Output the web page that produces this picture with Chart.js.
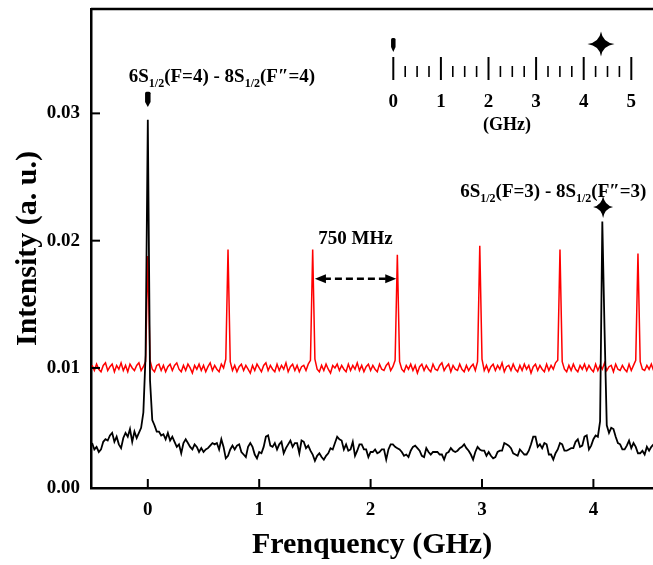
<!DOCTYPE html>
<html>
<head>
<meta charset="utf-8">
<script src="https://cdn.jsdelivr.net/npm/chart.js@4.4.0/dist/chart.umd.min.js"></script>
<style>
  body { margin: 0; background: #fff; }
  #wrap { width: 653px; height: 565px; }
</style>
</head>
<body>
<div id="wrap"><canvas id="spec" width="653" height="565"></canvas></div>
<script>
// frequency grid shared by both traces (GHz)
const freqStart = -0.5;
const freqStep = 0.02;

// black trace, 6S-8S two-photon signal
const blackIntensity = [
  0.0041,0.0036,0.0038,0.0034,0.0036,0.0042,0.0044,0.0043,0.0047,0.0049,
  0.0042,0.0046,0.0040,0.0037,0.0045,0.0049,0.0046,0.0052,0.0042,0.0050,
  0.0045,0.0049,0.0053,0.0065,0.0110,0.0295,0.0090,0.0059,0.0055,0.0050,
  0.0050,0.0047,0.0048,0.0044,0.0049,0.0043,0.0046,0.0042,0.0038,0.0040,
  0.0033,0.0041,0.0044,0.0041,0.0038,0.0036,0.0040,0.0038,0.0034,0.0037,
  0.0034,
  0.0036,0.0037,0.0039,0.0041,0.0040,0.0041,0.0036,0.0044,0.0038,0.0029,
  0.0031,0.0036,0.0039,0.0036,0.0039,0.0040,0.0034,0.0032,0.0030,0.0038,
  0.0041,0.0038,0.0032,0.0029,0.0034,0.0033,0.0038,0.0046,0.0047,0.0039,
  0.0038,0.0041,0.0036,0.0040,0.0042,0.0033,0.0037,0.0040,0.0043,0.0038,
  0.0041,0.0041,0.0033,0.0043,0.0042,0.0037,0.0039,0.0035,0.0032,0.0027,
  0.0031,
  0.0033,0.0030,0.0028,0.0031,0.0033,0.0037,0.0036,0.0041,0.0046,0.0044,
  0.0043,0.0036,0.0040,0.0035,0.0036,0.0042,0.0031,0.0035,0.0040,0.0040,
  0.0036,0.0036,0.0030,0.0034,0.0034,0.0036,0.0033,0.0034,0.0036,0.0036,
  0.0028,0.0036,0.0040,0.0040,0.0038,0.0037,0.0036,0.0034,0.0031,0.0032,
  0.0030,0.0035,0.0038,0.0039,0.0037,0.0035,0.0031,0.0030,0.0037,0.0034,
  0.0032,
  0.0034,0.0034,0.0034,0.0032,0.0032,0.0028,0.0033,0.0034,0.0037,0.0035,
  0.0034,0.0035,0.0037,0.0038,0.0040,0.0037,0.0035,0.0032,0.0028,0.0034,
  0.0038,0.0036,0.0035,0.0035,0.0031,0.0034,0.0031,0.0029,0.0030,0.0034,
  0.0035,0.0035,0.0041,0.0040,0.0039,0.0037,0.0033,0.0032,0.0031,0.0036,
  0.0034,0.0032,0.0032,0.0035,0.0040,0.0046,0.0046,0.0038,0.0040,0.0037,
  0.0041,0.0040,0.0032,0.0032,0.0028,0.0033,0.0036,0.0041,0.0040,0.0035,
  0.0035,0.0036,0.0037,0.0037,0.0042,0.0044,0.0038,0.0039,0.0046,0.0047,
  0.0036,0.0039,0.0044,0.0047,0.0046,0.0058,0.0215,0.0130,0.0055,0.0049,
  0.0053,0.0052,0.0046,0.0041,0.0040,0.0036,0.0036,0.0039,0.0043,0.0037,
  0.0041,0.0038,0.0033,0.0033,0.0035,0.0032,0.0038,0.0035,0.0038,0.0040
];

// red trace, reference comb with 750 MHz spacing
const redIntensity = [
  0.0102,0.0098,0.0103,0.0099,0.0097,0.0102,0.0104,0.0098,0.0101,0.0103,
  0.0097,0.0102,0.0099,0.0104,0.0098,0.0102,0.0097,0.0103,0.0100,0.0098,
  0.0102,0.0104,0.0098,0.0101,0.0105,0.0188,0.0106,0.0099,0.0097,0.0102,
  0.0103,0.0098,0.0102,0.0097,0.0101,0.0103,0.0098,0.0102,0.0104,0.0099,
  0.0097,0.0102,0.0098,0.0103,0.0100,0.0096,0.0102,0.0099,0.0103,0.0098,
  0.0102,0.0097,0.0101,0.0104,0.0098,0.0102,0.0099,0.0097,0.0103,0.0100,
  0.0107,0.0193,0.0105,0.0098,0.0102,0.0097,0.0101,0.0103,0.0098,0.0102,
  0.0099,0.0096,0.0102,0.0098,0.0103,0.0100,0.0097,0.0102,0.0104,0.0098,
  0.0102,0.0099,0.0097,0.0103,0.0098,0.0102,0.0099,0.0104,0.0097,0.0101,
  0.0103,0.0098,0.0102,0.0097,0.0101,0.0102,0.0098,0.0103,0.0106,0.0193,
  0.0107,0.0099,0.0097,0.0102,0.0098,0.0103,0.0099,0.0096,0.0102,0.0100,
  0.0103,0.0098,0.0102,0.0099,0.0097,0.0103,0.0098,0.0102,0.0099,0.0104,
  0.0098,0.0102,0.0097,0.0101,0.0103,0.0098,0.0102,0.0099,0.0097,0.0103,
  0.0099,0.0098,0.0102,0.0104,0.0098,0.0101,0.0106,0.0189,0.0105,0.0099,
  0.0097,0.0102,0.0099,0.0103,0.0098,0.0102,0.0096,0.0101,0.0103,0.0098,
  0.0102,0.0099,0.0097,0.0103,0.0099,0.0098,0.0102,0.0104,0.0098,0.0101,
  0.0103,0.0097,0.0102,0.0099,0.0098,0.0103,0.0099,0.0097,0.0102,0.0098,
  0.0101,0.0103,0.0098,0.0105,0.0196,0.0107,0.0098,0.0102,0.0097,0.0101,
  0.0103,0.0098,0.0102,0.0099,0.0104,0.0097,0.0101,0.0102,0.0098,0.0103,
  0.0099,0.0097,0.0102,0.0098,0.0103,0.0099,0.0102,0.0096,0.0101,0.0103,
  0.0098,0.0102,0.0099,0.0097,0.0103,0.0098,0.0102,0.0099,0.0104,0.0106,
  0.0193,0.0105,0.0099,0.0097,0.0102,0.0098,0.0103,0.0099,0.0097,0.0102,
  0.0099,0.0103,0.0098,0.0102,0.0099,0.0097,0.0103,0.0098,0.0102,0.0099,
  0.0104,0.0098,0.0101,0.0102,0.0097,0.0103,0.0099,0.0098,0.0102,0.0099,
  0.0097,0.0103,0.0098,0.0102,0.0106,0.0190,0.0105,0.0099,0.0098,0.0102,
  0.0099,0.0103,0.0098
];

const xTicks = [0, 1, 2, 3, 4];
const yTicks = [0.01, 0.02, 0.03];
const xMin = -0.51, xMax = 4.535;
const yMin = 0.00057, yMax = 0.0382;

// annotation anchors (data units)
const peakF4 = 0;        // bullet over the F=4 line
const peakF3 = 4.087;    // star over the F=3 line
const arrowFrom = 1.50, arrowTo = 2.23, arrowY = 0.017;
const insetTicks = [0, 1, 2, 3, 4, 5];

const FONT = 'Liberation Serif';
const mainFont = 'bold 19px "' + FONT + '"';
const subFont = 'bold 12px "' + FONT + '"';

function toPoints(arr) {
  return arr.map((v, i) => ({x: freqStart + i * freqStep, y: v}));
}

function line(ctx, x1, y1, x2, y2) {
  ctx.beginPath(); ctx.moveTo(x1, y1); ctx.lineTo(x2, y2); ctx.stroke();
}

function bullet(ctx, cx, top, bottom, w) {
  ctx.beginPath();
  ctx.moveTo(cx - w/2, top + 1.5);
  ctx.quadraticCurveTo(cx - w/2, top, cx - w/2 + 1.5, top);
  ctx.lineTo(cx + w/2 - 1.5, top);
  ctx.quadraticCurveTo(cx + w/2, top, cx + w/2, top + 1.5);
  ctx.lineTo(cx + w/2, bottom - 5);
  ctx.lineTo(cx, bottom);
  ctx.lineTo(cx - w/2, bottom - 5);
  ctx.closePath();
  ctx.fill();
}

function star(ctx, cx, cy, rx, ry) {
  const k = 1.6;
  ctx.beginPath();
  ctx.moveTo(cx, cy - ry);
  ctx.quadraticCurveTo(cx + k, cy - k, cx + rx, cy);
  ctx.quadraticCurveTo(cx + k, cy + k, cx, cy + ry);
  ctx.quadraticCurveTo(cx - k, cy + k, cx - rx, cy);
  ctx.quadraticCurveTo(cx - k, cy - k, cx, cy - ry);
  ctx.fill();
}

// text with 1/2 subscripts, centred on cx
function levelLabel(ctx, parts, cx, base) {
  let w = 0;
  parts.forEach(p => { ctx.font = p[1] ? subFont : mainFont; w += ctx.measureText(p[0]).width; });
  let px = cx - w / 2;
  ctx.textAlign = 'left';
  ctx.textBaseline = 'alphabetic';
  parts.forEach(p => {
    ctx.font = p[1] ? subFont : mainFont;
    ctx.fillText(p[0], px, base + (p[1] ? 5 : 0));
    px += ctx.measureText(p[0]).width;
  });
}

const decorations = {
  id: 'decorations',
  afterDraw(chart) {
    const {ctx, chartArea: a, scales: {x, y}} = chart;
    ctx.save();
    ctx.strokeStyle = '#000';
    ctx.fillStyle = '#000';

    // top frame line
    ctx.lineWidth = 2.5;
    line(ctx, a.left, a.top, a.right, a.top);

    // inward ticks
    ctx.lineWidth = 2;
    xTicks.forEach(v => { const px = x.getPixelForValue(v); line(ctx, px, a.bottom, px, a.bottom - 9); });
    yTicks.forEach(v => { const py = y.getPixelForValue(v); line(ctx, a.left, py, a.left + 9, py); });

    // level labels and markers
    levelLabel(ctx, [['6S', 0], ['1/2', 1], ['(F=4) - 8S', 0], ['1/2', 1], ['(F\u2033=4)', 0]],
      x.getPixelForValue(0.665), y.getPixelForValue(0.03245));
    bullet(ctx, x.getPixelForValue(peakF4), y.getPixelForValue(0.0317), y.getPixelForValue(0.0305), 5.5);
    levelLabel(ctx, [['6S', 0], ['1/2', 1], ['(F=3) - 8S', 0], ['1/2', 1], ['(F\u2033=3)', 0]],
      x.getPixelForValue(3.64), y.getPixelForValue(0.02347));
    star(ctx, x.getPixelForValue(peakF3), y.getPixelForValue(0.02265), 10, 11);

    // 750 MHz spacing arrow
    const x1 = x.getPixelForValue(arrowFrom), x2 = x.getPixelForValue(arrowTo);
    const ay = y.getPixelForValue(arrowY);
    ctx.lineWidth = 2.5;
    ctx.setLineDash([7, 4]);
    line(ctx, x1 + 9, ay, x2 - 9, ay);
    ctx.setLineDash([]);
    [[x1, 1], [x2, -1]].forEach(([tx, d]) => {
      ctx.beginPath();
      ctx.moveTo(tx, ay);
      ctx.lineTo(tx + d * 11, ay - 4.5);
      ctx.lineTo(tx + d * 11, ay + 4.5);
      ctx.closePath();
      ctx.fill();
    });
    ctx.font = mainFont;
    ctx.textAlign = 'center';
    ctx.fillText('750 MHz', (x1 + x2) / 2, y.getPixelForValue(0.0197));

    // inset frequency ruler
    const ix0 = 393.3, istep = 47.6;
    insetTicks.forEach((t, i) => {
      const px = ix0 + istep * t;
      ctx.lineWidth = 2;
      line(ctx, px, 57, px, 80);
      if (i < insetTicks.length - 1) {
        ctx.lineWidth = 1.6;
        for (let m = 1; m <= 3; m++) line(ctx, px + istep * m / 4, 66, px + istep * m / 4, 77);
      }
      ctx.font = mainFont;
      ctx.textAlign = 'center';
      ctx.fillText(String(t), px, 106.5);
    });
    ctx.font = 'bold 18px "' + FONT + '"';
    ctx.fillText('(GHz)', 507, 129.5);
    bullet(ctx, ix0, 38, 52, 4.5);
    star(ctx, 601, 44, 13.5, 12.5);

    ctx.restore();
  }
};

new Chart(document.getElementById('spec'), {
  type: 'line',
  data: {
    datasets: [
      {label: 'signal', data: toPoints(blackIntensity), borderColor: '#000', borderWidth: 1.8,
       pointRadius: 0, tension: 0},
      {label: 'comb', data: toPoints(redIntensity), borderColor: '#ff0000', borderWidth: 1.5,
       pointRadius: 0, tension: 0}
    ]
  },
  options: {
    responsive: false,
    devicePixelRatio: 1,
    animation: false,
    layout: {padding: {top: 9, right: 0, left: 0, bottom: 0}},
    plugins: {legend: {display: false}, tooltip: {enabled: false}},
    scales: {
      x: {
        type: 'linear', min: xMin, max: xMax,
        afterBuildTicks: s => { s.ticks = xTicks.map(v => ({value: v})); },
        afterFit: s => { s.height = 77; s.paddingLeft = 0; s.paddingRight = 0; },
        grid: {display: false, drawTicks: false},
        border: {display: true, color: '#000', width: 2.5},
        ticks: {color: '#000', padding: 11, font: {family: FONT, size: 19, weight: 'bold'},
                callback: v => String(v)},
        title: {display: true, text: 'Frenquency (GHz)', color: '#000', padding: {top: 0, bottom: 2},
                font: {family: FONT, size: 30, weight: 'bold'}}
      },
      y: {
        type: 'linear', min: yMin, max: yMax,
        afterBuildTicks: s => { s.ticks = [{value: yMin}].concat(yTicks.map(v => ({value: v}))); },
        afterFit: s => { s.width = 91; s.paddingTop = 0; s.paddingBottom = 0; },
        grid: {display: false, drawTicks: false},
        border: {display: true, color: '#000', width: 2.5},
        ticks: {color: '#000', padding: 11, font: {family: FONT, size: 19, weight: 'bold'},
                callback: v => (v < 0.005 ? '0.00' : v.toFixed(2))},
        title: {display: true, text: 'Intensity (a. u.)', color: '#000', padding: {top: 10, bottom: 0},
                font: {family: FONT, size: 30, weight: 'bold'}}
      }
    }
  },
  plugins: [decorations]
});
</script>
</body>
</html>
